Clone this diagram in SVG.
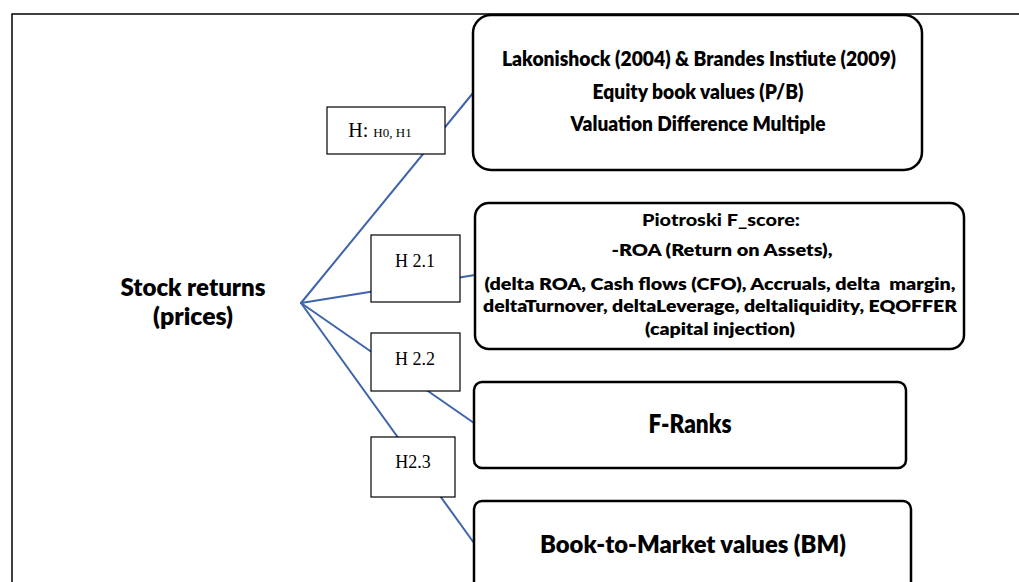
<svg xmlns="http://www.w3.org/2000/svg" width="1019" height="582" viewBox="0 0 1019 582">
<style>
.frame{fill:none;stroke:#000;stroke-width:1.5}
.conn{stroke:#3E64AC;stroke-width:2;fill:none;stroke-linecap:round}
.box{fill:#fff;stroke:#000;stroke-width:2.5}
.hbox{fill:#fff;stroke:#000;stroke-width:1.2}
.t{font-family:Lato,"Liberation Sans",sans-serif;font-weight:800;fill:#000;text-anchor:middle}
.tb{font-family:Lato,"Liberation Sans",sans-serif;font-weight:900;fill:#000;text-anchor:middle}
.h{font-family:"Liberation Serif","Times New Roman",serif;fill:#000;text-anchor:middle}
</style>
<rect width="1019" height="582" fill="#fff"/>
<path class="frame" d="M12,582 V14 H1019"/>
<g id="connectors">
<line class="conn" x1="301" y1="303" x2="473" y2="93"/>
<line class="conn" x1="301" y1="303" x2="475" y2="275"/>
<line class="conn" x1="301" y1="303" x2="474" y2="423"/>
<line class="conn" x1="301" y1="303" x2="474" y2="543"/>
</g>
<g id="stock-returns">
<text class="t" x="193" y="296" font-size="25" textLength="145" lengthAdjust="spacingAndGlyphs">Stock returns</text>
<text class="t" x="193" y="325" font-size="25" textLength="80" lengthAdjust="spacingAndGlyphs">(prices)</text>
</g>
<g id="h0h1">
<rect class="hbox" x="327" y="107" width="118" height="47"/>
<text class="h" x="380" y="137" font-size="20">H: <tspan font-size="13">H0, H1</tspan></text>
</g>
<g id="h21">
<rect class="hbox" x="371" y="235" width="89" height="67" stroke-width="1.5"/>
<text class="h" x="415" y="267" font-size="18">H 2.1</text>
</g>
<g id="h22">
<rect class="hbox" x="371" y="333" width="89" height="58" stroke-width="2.5"/>
<text class="h" x="415" y="365" font-size="18">H 2.2</text>
</g>
<g id="h23">
<rect class="hbox" x="371" y="437" width="84" height="60"/>
<text class="h" x="413" y="468" font-size="18">H2.3</text>
</g>
<g id="lakonishock">
<rect class="box" x="473" y="15" width="449" height="155" rx="18"/>
<text class="t" x="699" y="66" font-size="20" textLength="394" lengthAdjust="spacingAndGlyphs">Lakonishock (2004) &amp; Brandes Instiute (2009)</text>
<text class="t" x="698" y="99" font-size="20" textLength="211" lengthAdjust="spacingAndGlyphs">Equity book values (P/B)</text>
<text class="t" x="698" y="131" font-size="20" textLength="255" lengthAdjust="spacingAndGlyphs">Valuation Difference Multiple</text>
</g>
<g id="piotroski">
<rect class="box" x="475" y="203" width="489" height="146" rx="14"/>
<text class="tb" x="721" y="226" font-size="16" textLength="158" lengthAdjust="spacingAndGlyphs">Piotroski F_score:</text>
<text class="t" x="722" y="256" font-size="17" textLength="221" lengthAdjust="spacingAndGlyphs">-ROA (Return on Assets),</text>
<text class="t" x="720" y="290" font-size="17" textLength="471" lengthAdjust="spacingAndGlyphs" style="white-space:pre">(delta ROA, Cash flows (CFO), Accruals, delta  margin,</text>
<text class="t" x="720" y="312" font-size="17" textLength="474" lengthAdjust="spacingAndGlyphs">deltaTurnover, deltaLeverage, deltaliquidity, EQOFFER</text>
<text class="t" x="720" y="335" font-size="17" textLength="150" lengthAdjust="spacingAndGlyphs">(capital injection)</text>
</g>
<g id="f-ranks">
<rect class="box" x="474" y="382" width="432" height="86" rx="8"/>
<text class="t" x="690" y="433" font-size="26" textLength="83" lengthAdjust="spacingAndGlyphs">F-Ranks</text>
</g>
<g id="book-to-market">
<rect class="box" x="474" y="501" width="437" height="110" rx="8"/>
<text class="t" x="693" y="553" font-size="24" textLength="306" lengthAdjust="spacingAndGlyphs">Book-to-Market values (BM)</text>
</g>
</svg>
